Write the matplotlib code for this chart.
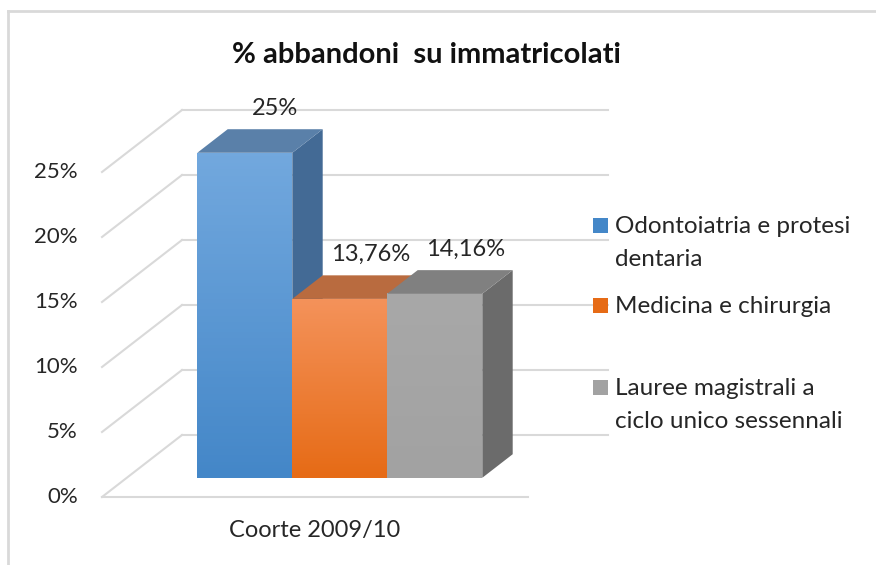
import numpy as np
import matplotlib.pyplot as plt
from matplotlib.patches import Polygon, Rectangle
from matplotlib.colors import LinearSegmentedColormap

# dati
categoria = "Coorte 2009/10"
serie = ["Odontoiatria e protesi\ndentaria",
         "Medicina e chirurgia",
         "Lauree magistrali a\nciclo unico sessennali"]
valori = [25.0, 13.76, 14.16]
etichette = ["25%", "13,76%", "14,16%"]
tick_valori = [0, 5, 10, 15, 20, 25]

# colori: fronte (alto, basso), tetto, fianco
col_fronte = [("#72a8de", "#4487c8"), ("#f4925a", "#e66b16"), ("#a8a8a8", "#a2a2a2")]
col_tetto = ["#5a80a9", "#b96b3f", "#808080"]
col_fianco = ["#436a95", "#a95a2a", "#6b6b6b"]

plt.rcParams['font.family'] = ['Lato', 'DejaVu Sans']
txt_col = "#262626"

W, H = 876, 565
fig = plt.figure(figsize=(W / 100, H / 100), dpi=100)
ax = fig.add_axes([0, 0, 1, 1])

# scala: x in pixel, y in percentuale (13 px per punto)
PX = 13.0
Y0 = 497  # pixel della linea frontale dello 0%
DX, DY = 80, 62 / PX  # profondita' del pavimento


def proj(x, y, z):
    return x + z * DX, y + z * DY


def px(x, y):
    # coordinate pixel (dall'alto) -> frazione della figura
    return x / W, 1 - y / H


grid_col = "#d9d9d9"
x0, x1 = 102, 528

# griglia: parete di fondo e parete sinistra
for t in tick_valori:
    a = proj(x0, t, 1)
    b = proj(x1, t, 1)
    ax.plot([a[0], b[0]], [a[1], b[1]], color=grid_col, lw=1.5, zorder=1)
    c = proj(x0, t, 0)
    ax.plot([c[0], a[0]], [c[1], a[1]], color=grid_col, lw=1.5, zorder=1)
    ax.text(78, t, f"{t}%", ha="right", va="center", fontsize=16, color=txt_col)
# linea frontale del pavimento
a = proj(x0, 0, 0)
b = proj(x1, 0, 0)
ax.plot([a[0], b[0]], [a[1], b[1]], color=grid_col, lw=1.5, zorder=1)

# barre 3D
larg = 95
centro = (x0 + x1) / 2
start = centro - larg * len(valori) / 2
z0, z1 = 0.31, 0.69
grad = np.linspace(0, 1, 100).reshape(-1, 1)

for i, v in enumerate(valori):
    xl = start + i * larg
    xr = xl + larg
    zo = 3 + i
    # fronte con sfumatura
    fl = proj(xl, 0, z0)
    ft = proj(xr, v, z0)
    cmap = LinearSegmentedColormap.from_list("g%d" % i, [col_fronte[i][1], col_fronte[i][0]])
    ax.imshow(grad, cmap=cmap, origin="lower", aspect="auto",
              extent=[fl[0], ft[0], fl[1], ft[1]], zorder=zo)
    # tetto
    tetto = [proj(xl, v, z0), proj(xr, v, z0), proj(xr, v, z1), proj(xl, v, z1)]
    ax.add_patch(Polygon(tetto, closed=True, fc=col_tetto[i], ec="none", zorder=zo))
    # fianco destro
    fianco = [proj(xr, 0, z0), proj(xr, 0, z1), proj(xr, v, z1), proj(xr, v, z0)]
    ax.add_patch(Polygon(fianco, closed=True, fc=col_fianco[i], ec="none", zorder=zo - 0.5))
    # etichetta dati
    lx, ly = proj((xl + xr) / 2, v, z1)
    ax.text(lx, ly + 0.8, etichette[i], ha="center", va="bottom", fontsize=17,
            color=txt_col, zorder=10)

# categoria
cx, cy = proj(centro, 0, 0)
ax.text(cx, cy - 2.6, categoria, ha="center", va="center", fontsize=17, color=txt_col)

ax.set_xlim(0, W)
ax.set_ylim((Y0 - H) / PX, Y0 / PX)
ax.axis("off")

# titolo
fig.text(*px(426, 55), "% abbandoni  su immatricolati", ha="center", va="center",
         fontsize=21, fontweight="bold", color="#111111")

# legenda disegnata a mano (allineata alla prima riga come in Excel)
leg_y = [225, 305, 387]
for i, nome in enumerate(serie):
    y = leg_y[i]
    sx, sy = px(593, y + 8)
    fig.patches.append(Rectangle((sx, sy), 15 / W, 15 / H, transform=fig.transFigure,
                                 fc=col_fronte[i][1], ec="none"))
    fig.text(*px(615, y - 9), nome, ha="left", va="top", fontsize=17.5,
             color=txt_col, linespacing=1.7)

# cornice (solo bordo superiore e sinistro visibili)
fig.add_artist(plt.Line2D([8 / W, 1], [1 - 11 / H, 1 - 11 / H], transform=fig.transFigure,
                          color=grid_col, lw=2))
fig.add_artist(plt.Line2D([8 / W, 8 / W], [1 - 11 / H, 0], transform=fig.transFigure,
                          color=grid_col, lw=2))

fig.savefig("out.png", dpi=100)
